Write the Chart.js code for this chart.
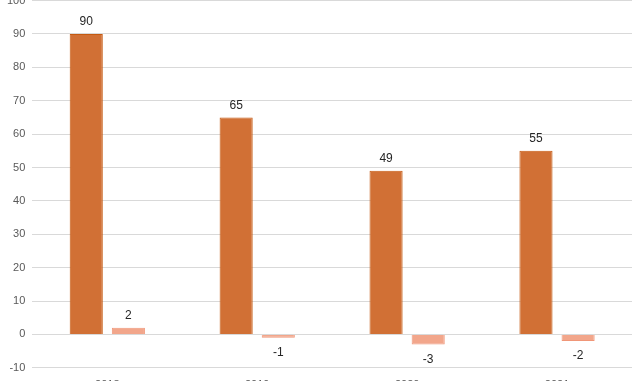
<!DOCTYPE html>
<html>
<head>
<meta charset="utf-8">
<script src="https://cdn.jsdelivr.net/npm/chart.js@4"></script>
<style>
  html, body { margin: 0; padding: 0; background: #fff; overflow: hidden; }
  #caja { position: absolute; left: 0; top: -13px; width: 640px; height: 408px; }
</style>
</head>
<body>
<div id="caja"><canvas id="grafico"></canvas></div>
<script>
const anios = ["2018", "2019", "2020", "2021"];
const serieA = [90, 65, 49, 55];
const serieB = [2, -1, -3, -2];
const ticksY = [-10, 0, 10, 20, 30, 40, 50, 60, 70, 80, 90, 100];

// Etiquetas de datos encima / debajo de cada barra
const etiquetasPlugin = {
  id: "etiquetas",
  afterDatasetsDraw(chart) {
    const { ctx } = chart;
    ctx.save();
    ctx.font = "12px 'Liberation Sans', Arial, sans-serif";
    ctx.fillStyle = "#262626";
    ctx.textAlign = "center";
    ctx.textBaseline = "middle";
    chart.data.datasets.forEach((ds, i) => {
      const meta = chart.getDatasetMeta(i);
      meta.data.forEach((bar, j) => {
        const v = ds.data[j];
        const y = v >= 0 ? bar.y - 12 : bar.y + 15;
        ctx.fillText(String(v), bar.x, y);
      });
    });
    ctx.restore();
  }
};

const data = {
  type: "bar",
  data: {
    labels: anios,
    datasets: [{
      data: serieA,
      backgroundColor: "rgb(209,112,53)",
      borderColor: "rgb(197,90,17)",
      borderWidth: 1,
      barPercentage: 0.786,
      categoryPercentage: 0.562
    }, {
      data: serieB,
      backgroundColor: "rgb(242,166,139)",
      borderColor: "rgb(240,150,120)",
      borderWidth: 1,
      barPercentage: 0.786,
      categoryPercentage: 0.562
    }]
  },
  options: {
    responsive: true,
    maintainAspectRatio: false,
    animation: false,
    layout: { padding: { left: 0, right: 8, top: 0, bottom: 0 } },
    plugins: {
      legend: { display: false },
      tooltip: { enabled: false }
    },
    scales: {
      x: {
        grid: { display: false },
        border: { display: false },
        ticks: {
          color: "#595959",
          font: { family: "'Liberation Sans', Arial, sans-serif", size: 11 },
          padding: 3
        }
      },
      y: {
        min: -10,
        max: 100,
        afterBuildTicks: (axis) => { axis.ticks = ticksY.map(v => ({ value: v })); },
        grid: { color: "#d9d9d9", lineWidth: 1, drawTicks: false },
        border: { display: false },
        ticks: {
          color: "#595959",
          font: { family: "'Liberation Sans', Arial, sans-serif", size: 11 },
          padding: 7
        }
      }
    }
  },
  plugins: [etiquetasPlugin]
};

const canva = document.getElementById("grafico").getContext("2d");
window.miGrafico = new Chart(canva, data);
</script>
</body>
</html>
